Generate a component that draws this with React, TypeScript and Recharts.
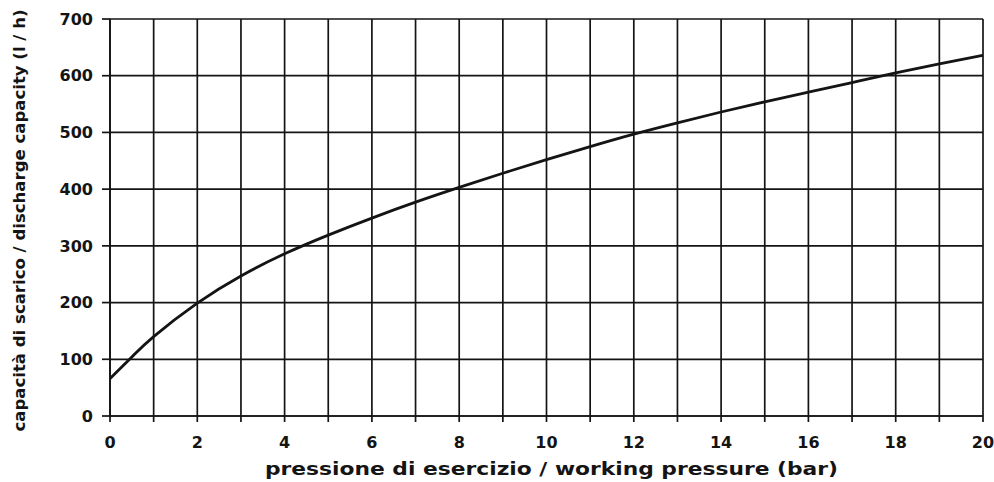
import React from 'react';
import { LineChart, Line, XAxis, YAxis, CartesianGrid } from 'recharts';

const pressure = [0, 0.5, 1, 2, 3, 4, 5, 6, 7, 8, 9, 10, 11, 12, 13, 14, 15, 16, 17, 18, 19, 20];
const capacity = [66, 104, 140, 199, 247, 286, 319, 349, 377, 403, 428, 452, 475, 497, 517, 536, 554, 571, 588, 605, 621, 636];
const xTicks = [0, 1, 2, 3, 4, 5, 6, 7, 8, 9, 10, 11, 12, 13, 14, 15, 16, 17, 18, 19, 20];
const yTicks = [0, 100, 200, 300, 400, 500, 600, 700];
const xTitle = 'pressione di esercizio / working pressure (bar)';
const yTitle = 'capacità di scarico / discharge capacity (l / h)';

const data = pressure.map((p, i) => ({ p, c: capacity[i] }));

const FONT = '"DejaVu Sans", Verdana, sans-serif';
const INK = '#141414';

const XTitle = (props: any) => {
  const vb = props.viewBox || { x: 110, y: 416, width: 873, height: 30 };
  return (
    <text
      x={vb.x + vb.width / 2 + 5}
      y={vb.y + 59}
      textAnchor="middle"
      fontFamily={FONT}
      fontWeight="bold"
      fontSize={18}
      fill={INK}
      textLength={573}
      lengthAdjust="spacingAndGlyphs"
    >
      {xTitle}
    </text>
  );
};

const YTitle = (props: any) => {
  const vb = props.viewBox || { x: 0, y: 19, width: 110, height: 397 };
  const cx = 25;
  const cy = vb.y + vb.height / 2 + 3;
  return (
    <text
      x={cx}
      y={cy}
      transform={`rotate(-90 ${cx} ${cy})`}
      textAnchor="middle"
      fontFamily={FONT}
      fontWeight="bold"
      fontSize={16}
      fill={INK}
      textLength={422}
      lengthAdjust="spacingAndGlyphs"
    >
      {yTitle}
    </text>
  );
};

export default function App() {
  return (
    <div style={{ position: 'absolute', left: 0, top: 0, width: 994, height: 482, background: '#fff' }}>
      <LineChart
        width={994}
        height={482}
        data={data}
        margin={{ top: 19, right: 11, left: 0, bottom: 36 }}
      >
        <CartesianGrid stroke={INK} strokeWidth={1.7} />
        <XAxis
          dataKey="p"
          type="number"
          domain={[0, 20]}
          ticks={xTicks}
          interval={0}
          tickFormatter={(v: number) => (v % 2 === 0 ? String(v) : '')}
          tickSize={6}
          tickMargin={15}
          height={30}
          stroke={INK}
          strokeWidth={1.7}
          tick={{ fill: INK, fontFamily: FONT, fontWeight: 'bold', fontSize: 16 }}
          label={<XTitle />}
        />
        <YAxis
          type="number"
          domain={[0, 700]}
          ticks={yTicks}
          interval={0}
          tickSize={8}
          tickMargin={9}
          width={110}
          stroke={INK}
          strokeWidth={1.7}
          tick={{ fill: INK, fontFamily: FONT, fontWeight: 'bold', fontSize: 16 }}
          label={<YTitle />}
        />
        <Line
          type="natural"
          dataKey="c"
          stroke={INK}
          strokeWidth={2.8}
          dot={false}
          isAnimationActive={false}
        />
      </LineChart>
    </div>
  );
}
